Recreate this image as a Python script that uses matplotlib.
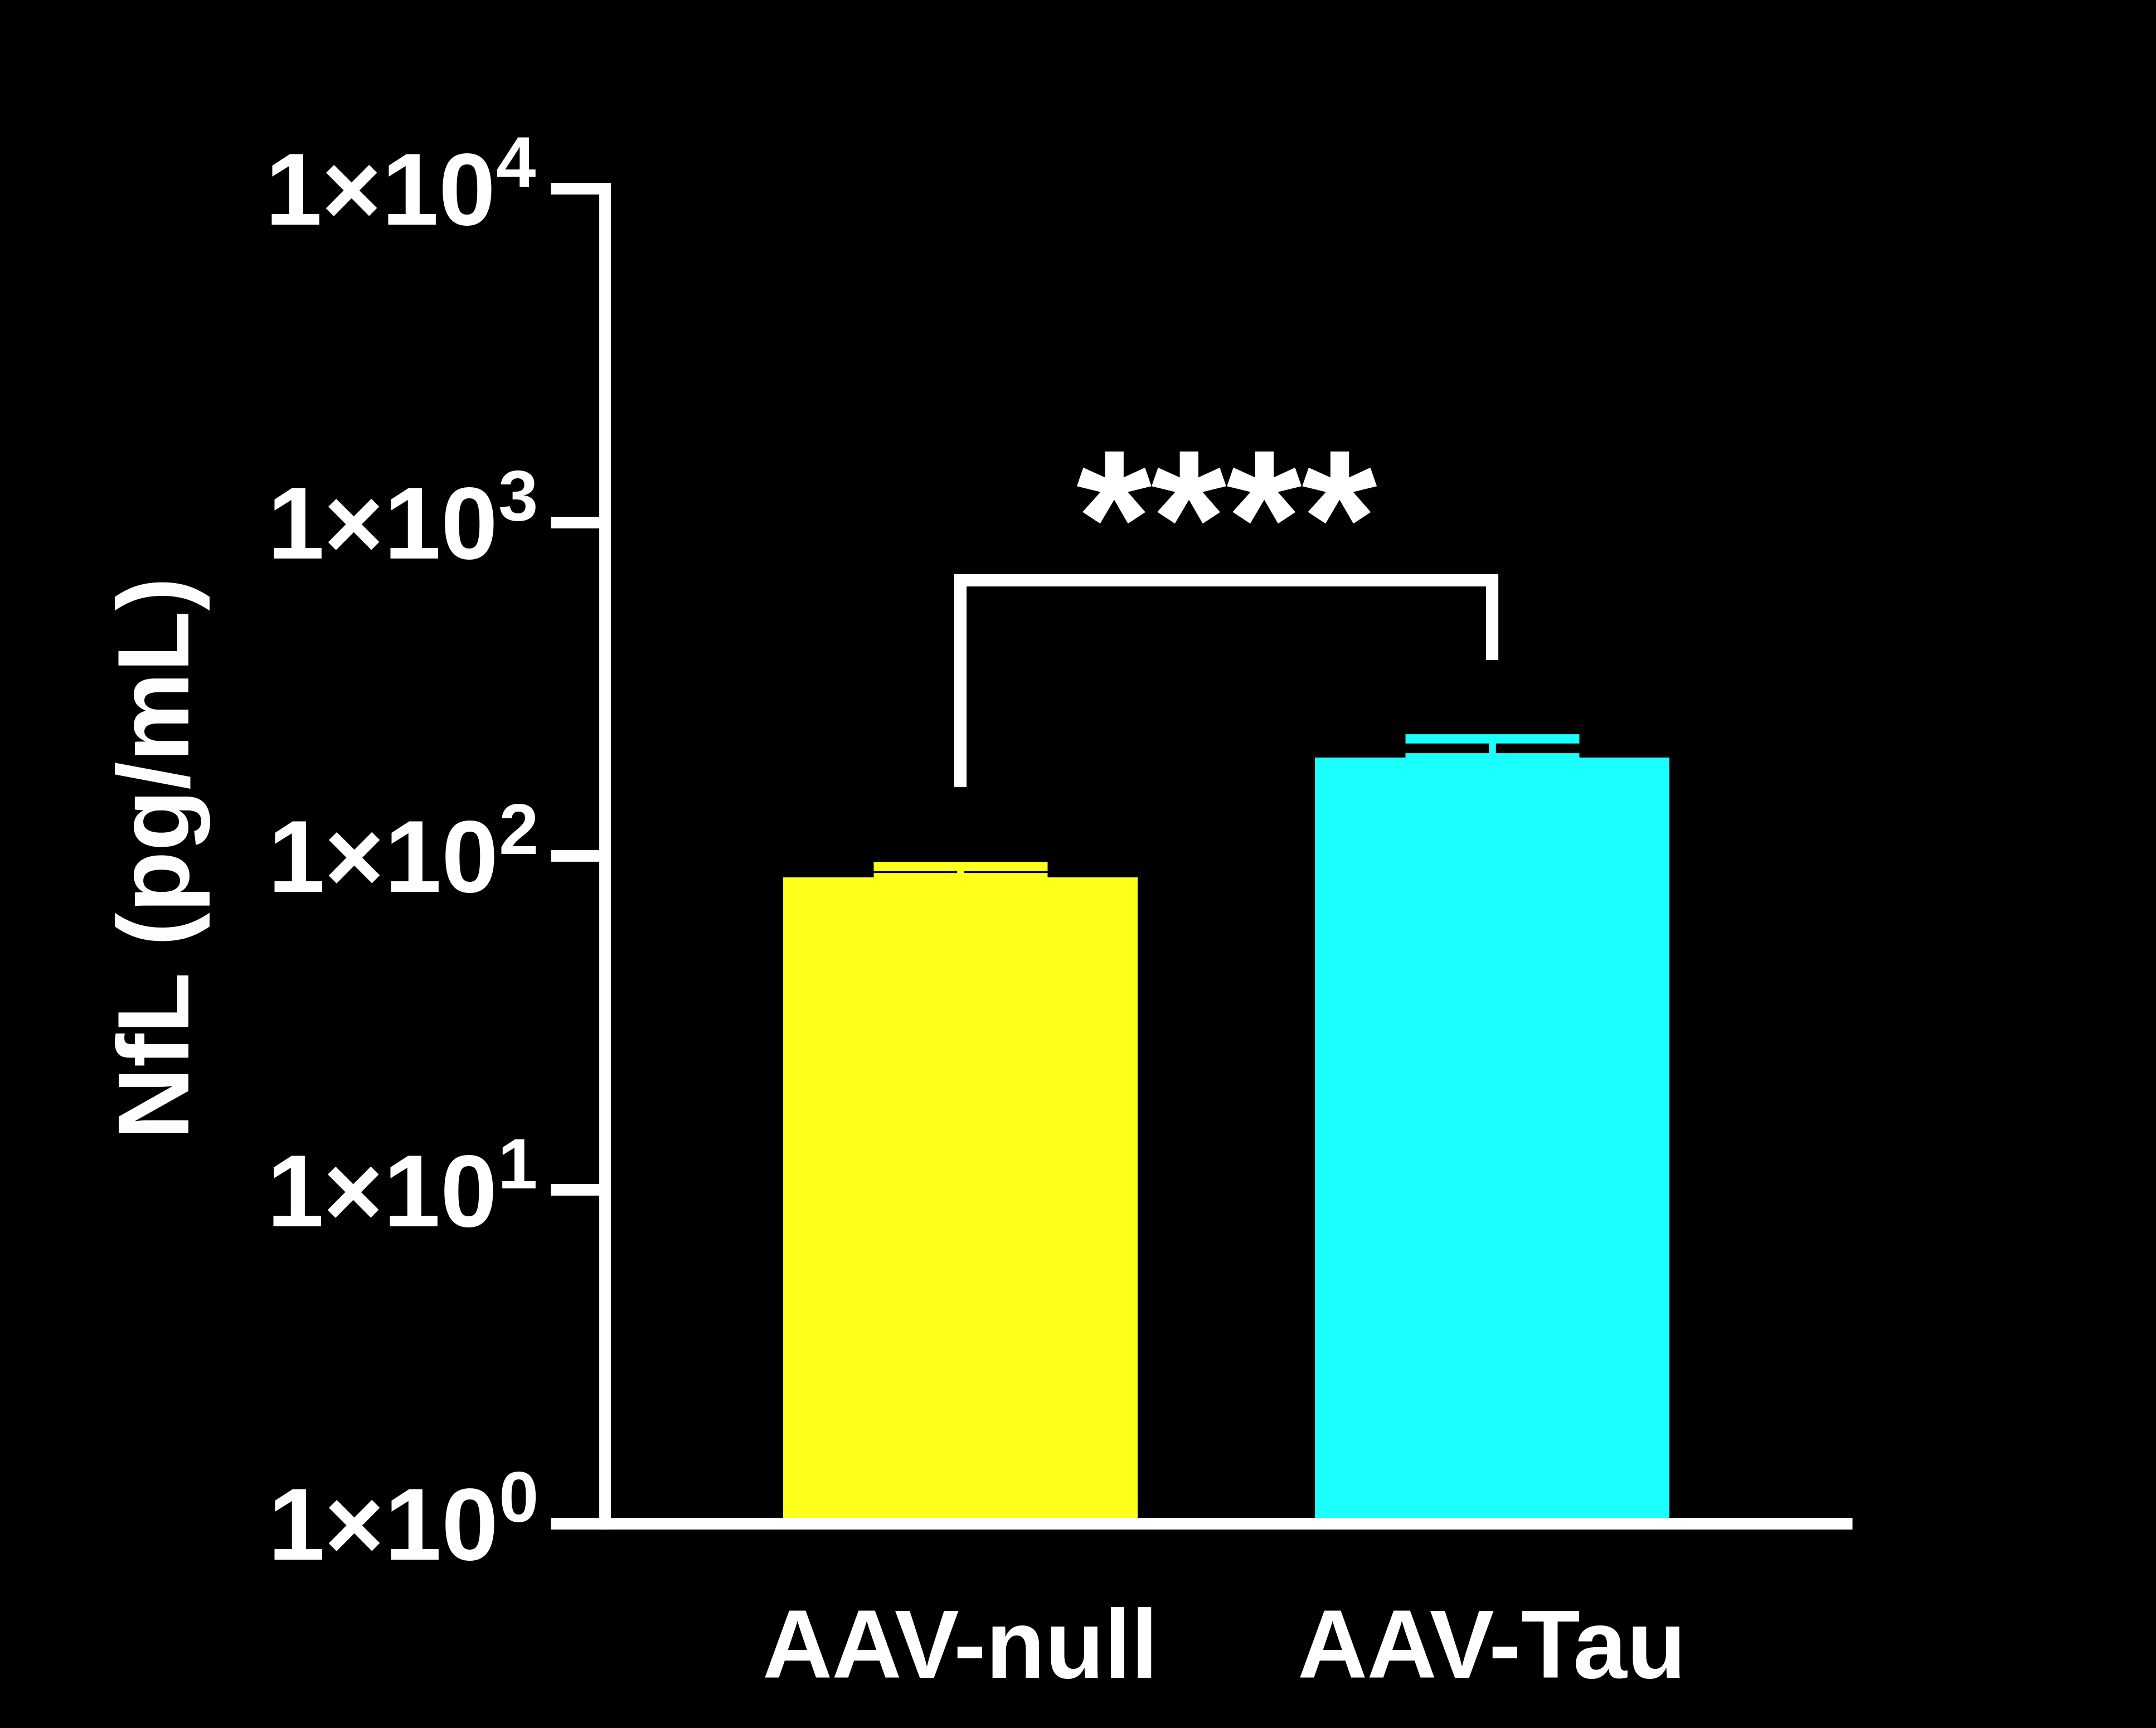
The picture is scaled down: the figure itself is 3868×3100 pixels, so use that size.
import matplotlib
matplotlib.use("Agg")
import matplotlib.pyplot as plt
import numpy as np

# ---- data ----
categories = ["AAV-null", "AAV-Tau"]
means = [86.3, 197.0]
sem_upper = [6.8, 28.0]
bar_colors = ["#ffff1c", "#1cffff"]
ytick_exponents = [0, 1, 2, 3, 4]
significance = "****"
# bracket annotation (data units)
bracket_top = 670.0
bracket_left_bottom = 161.0
bracket_right_bottom = 386.0
star_y = 650.0

plt.rcParams['font.family'] = ['Liberation Sans', 'DejaVu Sans']
plt.rcParams['font.weight'] = 'bold'
plt.rcParams['mathtext.fontset'] = 'custom'
plt.rcParams['mathtext.rm'] = 'Liberation Sans:bold'
plt.rcParams['mathtext.bf'] = 'Liberation Sans:bold'
plt.rcParams['mathtext.it'] = 'Liberation Sans:bold'
plt.rcParams['mathtext.default'] = 'rm'

fig = plt.figure(figsize=(38.68, 31.0), dpi=100)
fig.patch.set_facecolor("black")
ax = fig.add_axes([0.2805, 0.1184, 0.859 - 0.2805, 0.891 - 0.1184])
ax.set_facecolor("black")

x = np.arange(len(categories))
ax.set_yscale("log")
ax.bar(x, means, width=0.666, color=bar_colors, edgecolor="none", zorder=2)
for xi, m, e, c in zip(x, means, sem_upper, bar_colors):
    ax.errorbar([xi], [m], yerr=[[0], [e]], fmt="none", ecolor=c,
                elinewidth=9, capsize=112, capthick=12, zorder=3)

ax.set_ylim(1, 1e4)
ax.set_xlim(-0.669, 1.677)
ax.yaxis.set_major_locator(matplotlib.ticker.FixedLocator([10.0 ** k for k in ytick_exponents]))
ax.yaxis.set_minor_locator(matplotlib.ticker.NullLocator())
ax.set_yticklabels(["1×10$^{%d}$" % k for k in ytick_exponents])
ax.set_xticks(x)
ax.set_xticklabels(categories)

for s in ["top", "right"]:
    ax.spines[s].set_visible(False)
for s in ["left", "bottom"]:
    ax.spines[s].set_color("white")
    ax.spines[s].set_linewidth(15)
ax.spines["left"].set_capstyle("projecting")
ax.spines["bottom"].set_capstyle("butt")

ax.tick_params(axis="y", which="major", direction="out", length=70, width=15,
               color="white", labelcolor="white", labelsize=132, pad=18)
ax.tick_params(axis="x", length=0, labelcolor="white", labelsize=125, pad=108)
for lab in ax.get_xticklabels() + ax.get_yticklabels():
    lab.set_fontweight("bold")

ax.set_ylabel("NfL (pg/mL)", fontsize=130, fontweight="bold", color="white")
ax.yaxis.label.set_va("center")
ax.yaxis.set_label_coords(-0.354, 0.4985)

# significance bracket
ax.plot([x[0], x[0], x[1], x[1]],
        [bracket_left_bottom, bracket_top, bracket_top, bracket_right_bottom],
        color="white", lw=16, solid_joinstyle="miter", solid_capstyle="butt",
        clip_on=False, zorder=4)
ax.text((x[0] + x[1]) / 2, star_y, significance, ha="center", va="baseline",
        fontsize=250, fontweight="bold", color="white")

fig.savefig("out.png", dpi=100, facecolor="black")
